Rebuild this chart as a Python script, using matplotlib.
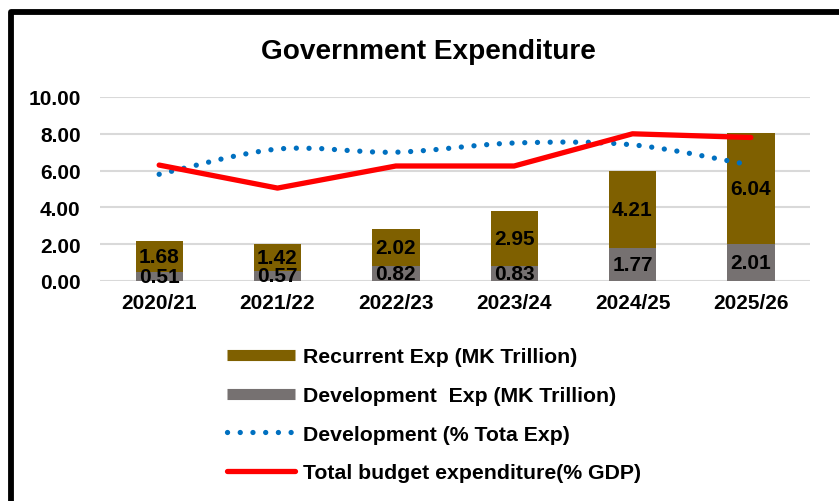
import matplotlib
matplotlib.use("Agg")
import matplotlib.pyplot as plt
from matplotlib.path import Path
from matplotlib.patches import PathPatch, Rectangle
from matplotlib.lines import Line2D

# ===== DATEN =====
years = ["2020/21", "2021/22", "2022/23", "2023/24", "2024/25", "2025/26"]
dev_exp = [0.51, 0.57, 0.82, 0.83, 1.77, 2.01]        # MK Trillion
rec_exp = [1.68, 1.42, 2.02, 2.95, 4.21, 6.04]        # MK Trillion
dev_share = [5.8, 7.17, 7.0, 7.5, 7.4, 6.3]           # % Total Exp
total_gdp = [6.3, 5.05, 6.25, 6.25, 8.0, 7.8]          # % GDP

c_rec = "#7F6000"
c_dev = "#767171"
c_blue = "#0070C0"
c_red = "#FF0000"

plt.rcParams["font.family"] = ["Liberation Sans", "DejaVu Sans"]
plt.rcParams["font.weight"] = "bold"

fig = plt.figure(figsize=(8.39, 5.02), dpi=100)
W, H = 839, 502
ax = fig.add_axes([100 / W, 1 - 282 / H, 710 / W, (282 - 98) / H])

x = list(range(len(years)))

# ===== BALKEN =====
ax.bar(x, dev_exp, width=0.4, color=c_dev, zorder=2)
ax.bar(x, rec_exp, width=0.4, bottom=dev_exp, color=c_rec, zorder=2)

for i in x:
    ax.text(i, dev_exp[i] / 2, f"{dev_exp[i]:.2f}", ha="center", va="center",
            fontsize=15, fontweight="bold", zorder=5)
    ax.text(i, dev_exp[i] + rec_exp[i] / 2, f"{rec_exp[i]:.2f}", ha="center",
            va="center", fontsize=15, fontweight="bold", zorder=5)

# ===== LINIEN =====
# geglaettete Linie (wie Excel "smooth") als Bezier-Pfad
pts = list(zip(x, dev_share))
verts = [pts[0]]
codes = [Path.MOVETO]
for i in range(len(pts) - 1):
    p0 = pts[i - 1] if i > 0 else pts[i]
    p1 = pts[i]
    p2 = pts[i + 1]
    p3 = pts[i + 2] if i + 2 < len(pts) else pts[i + 1]
    c1 = (p1[0] + (p2[0] - p0[0]) / 6, p1[1] + (p2[1] - p0[1]) / 6)
    c2 = (p2[0] - (p3[0] - p1[0]) / 6, p2[1] - (p3[1] - p1[1]) / 6)
    verts += [c1, c2, p2]
    codes += [Path.CURVE4] * 3
ax.add_patch(PathPatch(Path(verts, codes), fill=False, edgecolor=c_blue,
                       lw=3.8, linestyle=(0, (0.01, 2.4)), capstyle="round",
                       zorder=3))

ax.plot(x, total_gdp, color=c_red, lw=3.8, solid_capstyle="round", zorder=4)

# ===== ACHSEN =====
ax.set_xlim(-0.5, len(years) - 0.5)
ax.set_ylim(0, 10)
ax.set_yticks([0, 2, 4, 6, 8, 10])
ax.set_yticklabels([f"{v:.2f}" for v in [0, 2, 4, 6, 8, 10]])
ax.set_xticks(x)
ax.set_xticklabels(years)
ax.tick_params(axis="both", length=0, labelsize=15)
ax.tick_params(axis="y", pad=14)
ax.tick_params(axis="x", pad=9)
for s in ax.spines.values():
    s.set_visible(False)
ax.grid(axis="y", color="#D9D9D9", lw=1.5, zorder=0)
ax.set_axisbelow(True)

# ===== TITEL / LEGENDE =====
fig.text(428 / W, 1 - 59 / H, "Government Expenditure", ha="center",
         va="baseline", fontsize=20.2, fontweight="bold")

handles = [
    Line2D([], [], color=c_rec, lw=8, solid_capstyle="butt"),
    Line2D([], [], color=c_dev, lw=8, solid_capstyle="butt"),
    Line2D([], [], color=c_blue, lw=3.8, linestyle=(0, (0.01, 2.4)),
           dash_capstyle="round"),
    Line2D([], [], color=c_red, lw=3.8, solid_capstyle="round"),
]
labels = ["Recurrent Exp (MK Trillion)", "Development  Exp (MK Trillion)",
          "Development (% Tota Exp)", "Total budget expenditure(% GDP)"]
fig.legend(handles, labels, loc="upper left",
           bbox_to_anchor=(218 / W, 1 - 340 / H), frameon=False,
           prop={"size": 15.3, "weight": "bold"}, handlelength=3.2,
           handletextpad=0.4, labelspacing=0.92, borderaxespad=0)

# Rahmen
fig.add_artist(Rectangle((10.5 / W, -0.1), 1.2, 1 - 12.5 / H + 0.1,
                         transform=fig.transFigure, fill=False,
                         edgecolor="black", lw=4.2, joinstyle="round"))

fig.savefig("out.png", dpi=100)
plt.close(fig)
